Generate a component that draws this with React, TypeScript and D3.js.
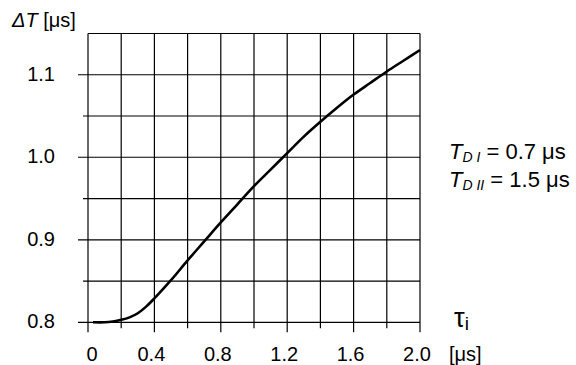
import * as d3 from "d3";

// curve ΔT(τi)
const tauValues = [0.03, 0.1, 0.15, 0.2, 0.25, 0.3, 0.35, 0.4, 0.5, 0.6, 0.7, 0.8, 0.9, 1.0, 1.1, 1.2, 1.3, 1.4, 1.5, 1.6, 1.7, 1.8, 1.9, 2.0];
const deltaT = [0.8, 0.8, 0.801, 0.803, 0.806, 0.811, 0.819, 0.829, 0.851, 0.875, 0.898, 0.921, 0.943, 0.965, 0.985, 1.005, 1.025, 1.043, 1.06, 1.076, 1.09, 1.104, 1.117, 1.13];

const xGrid = [0, 0.2, 0.4, 0.6, 0.8, 1.0, 1.2, 1.4, 1.6, 1.8, 2.0];
const xLabels = ["0", "0.4", "0.8", "1.2", "1.6", "2.0"];
const yGrid = [0.8, 0.85, 0.9, 0.95, 1.0, 1.05, 1.1, 1.15];
const yLabels = ["0.8", "0.9", "1.0", "1.1"];

const FONT = "'Liberation Sans', Arial, sans-serif";

export default function App() {
  const x = d3.scaleLinear().domain([0, 2]).range([88, 420]);
  const y = d3.scaleLinear().domain([0.8, 1.15]).range([322.3, 33.5]);

  const line = d3
    .line<number>()
    .x((_, i) => x(tauValues[i]))
    .y((d) => y(d))
    .curve(d3.curveCatmullRom);

  const isMajorX = (v: number) => xLabels.some((l) => Math.abs(+l - v) < 1e-6);
  const isMajorY = (v: number) => yLabels.some((l) => Math.abs(+l - v) < 1e-6);

  return (
    <svg
      width={576}
      height={365}
      style={{ position: "absolute", left: 0, top: 0, background: "#fff" }}
      fontFamily={FONT}
    >
      {/* vertical grid + x ticks */}
      {xGrid.map((v) => (
        <line
          key={"vx" + v}
          x1={x(v)}
          x2={x(v)}
          y1={y(1.15)}
          y2={y(0.8) + (isMajorX(v) ? 10 : 6)}
          stroke="#000"
          strokeWidth={1.2}
        />
      ))}
      {/* horizontal grid + y ticks */}
      {yGrid.map((v) => (
        <line
          key={"hy" + v}
          x1={x(0) - (v >= 1.149 ? 0 : isMajorY(v) ? 10 : 5)}
          x2={x(2)}
          y1={y(v)}
          y2={y(v)}
          stroke="#000"
          strokeWidth={1.2}
        />
      ))}

      <path d={line(deltaT) ?? ""} fill="none" stroke="#000" strokeWidth={2.6} />

      {/* tick labels */}
      {yLabels.map((l) => (
        <text key={"yl" + l} x={55} y={y(+l) + 6} fontSize={20} textAnchor="end">
          {l}
        </text>
      ))}
      {xLabels.map((l) => (
        <text
          key={"xl" + l}
          x={x(+l) + (l === "0" ? 4 : -3)}
          y={361}
          fontSize={20}
          textAnchor="middle"
        >
          {l}
        </text>
      ))}

      {/* axis titles */}
      <text x={12} y={27} fontSize={20}>
        <tspan fontStyle="italic">ΔT</tspan>
        <tspan> [μs]</tspan>
      </text>
      <text x={454} y={327} fontSize={27}>
        τ<tspan fontSize={19} dy={3}>i</tspan>
      </text>
      <text x={449} y={361} fontSize={20}>
        [μs]
      </text>

      {/* parameters */}
      <text x={449} y={159} fontSize={22}>
        <tspan fontStyle="italic">T</tspan>
        <tspan fontStyle="italic" fontSize={14} dy={3}>D I</tspan>
        <tspan dy={-3}> = 0.7 μs</tspan>
      </text>
      <text x={449} y={187} fontSize={22}>
        <tspan fontStyle="italic">T</tspan>
        <tspan fontStyle="italic" fontSize={14} dy={3}>D II</tspan>
        <tspan dy={-3}> = 1.5 μs</tspan>
      </text>
    </svg>
  );
}
